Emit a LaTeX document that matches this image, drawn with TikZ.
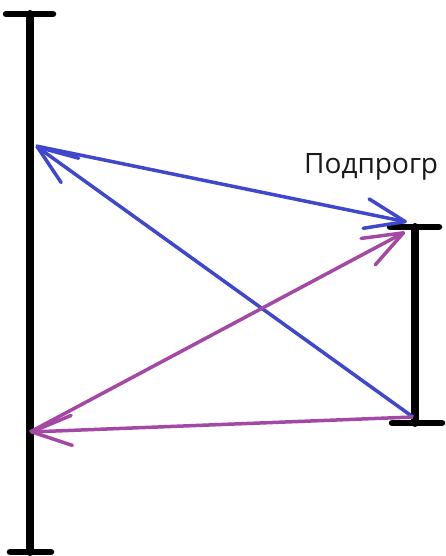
\documentclass[tikz,border=0pt]{standalone}
\usepackage{fontspec}
\setmainfont{Open Sans}
\usetikzlibrary{arrows.meta}

\definecolor{callblue}{HTML}{3F48CC}
\definecolor{retpurple}{HTML}{A349A4}

\begin{document}
\begin{tikzpicture}[
  x=1pt, y=-1pt,
  bar/.style={line width=8pt, line cap=round},
  barend/.style={line width=6.5pt, line cap=round},
  call/.style={-{Straight Barb[length=40pt, width=30pt, round]}, line width=3.5pt, callblue},
  ret/.style={-{Straight Barb[length=40pt, width=30pt, round]}, line width=3.5pt, retpurple},
  lbl/.style={font=\fontsize{28}{32}\selectfont, anchor=base west, inner sep=0pt, text=black!90},
]
\useasboundingbox (0,0) rectangle (446,556);

% main program
\coordinate (mainTop) at (30,14);
\coordinate (mainBot) at (30,552);
\coordinate (mainOut) at (36,146);
\coordinate (mainBack) at (30,432);
\draw[bar] (mainTop) -- (mainBot);
\draw[barend] (6,14) -- (53,14);
\draw[barend] (10,552) -- (51,552);

% subroutine
\coordinate (subTop) at (415,227);
\coordinate (subBot) at (415,423);
\coordinate (subIn) at (407,222);
\coordinate (subIn2) at (405,232);
\coordinate (subOut) at (413,417);
\draw[bar] (subTop) -- (subBot);
\draw[barend] (390,227) -- (439,227);
\draw[barend] (392,423) -- (442,423);
\node[lbl] (sub) at (304,174) {Подпрогр};

% calls and returns
\draw[call] (mainOut) -- (subIn);
\draw[call] (subOut) -- (mainOut);
\draw[ret] (mainBack) -- (subIn2);
\draw[ret] (subOut) -- (mainBack);
\end{tikzpicture}
\end{document}
